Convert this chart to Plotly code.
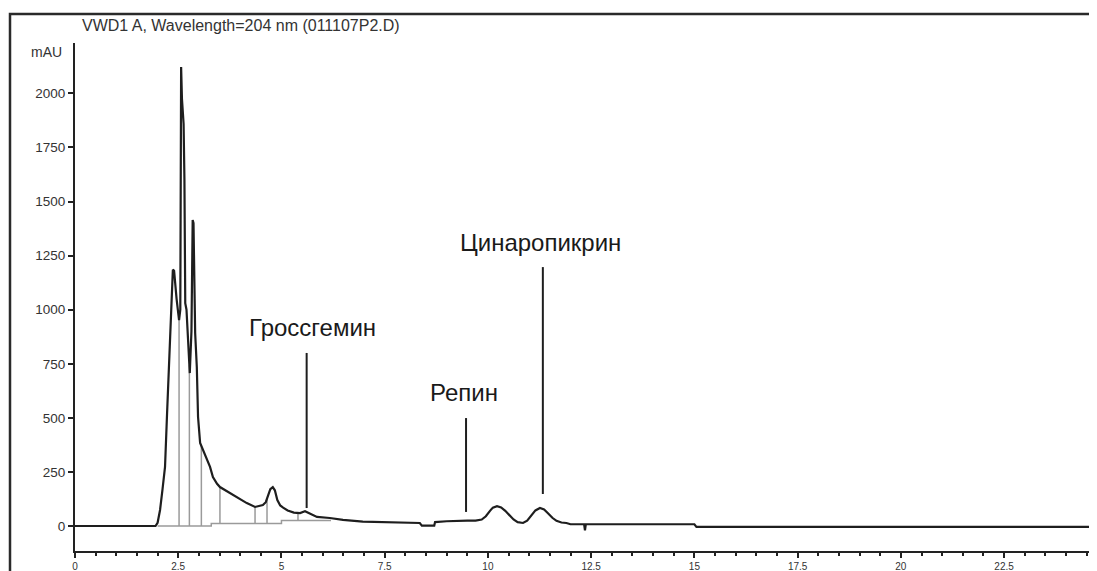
import numpy as np
import plotly.graph_objects as go

# Chromatogram trace (retention time, min) and absorbance (mAU)
time_min = [0, 1.95, 2.00, 2.06, 2.12, 2.18, 2.23, 2.28, 2.32, 2.35, 2.37, 2.40, 2.43, 2.46,
            2.49, 2.52, 2.55, 2.57, 2.59, 2.61, 2.63, 2.65, 2.67, 2.70, 2.74, 2.78, 2.82,
            2.85, 2.87, 2.89, 2.91, 2.95, 2.98, 3.03, 3.10, 3.20, 3.27, 3.34, 3.44, 3.51,
            3.63, 3.75, 3.95, 4.16, 4.36, 4.55, 4.62, 4.68, 4.73, 4.79, 4.84, 4.90, 4.97,
            5.04, 5.15, 5.30, 5.45, 5.57, 5.70, 5.86, 6.17, 6.49, 6.97, 7.50, 8.00, 8.35,
            8.40, 8.70, 8.72, 9.00, 9.50, 9.70, 9.85, 9.95, 10.05, 10.12, 10.22, 10.32,
            10.42, 10.52, 10.62, 10.72, 10.85, 10.95, 11.05, 11.15, 11.26, 11.36, 11.46,
            11.56, 11.66, 11.78, 11.90, 12.00, 12.33, 12.35, 12.37, 12.50, 15.00, 15.05, 25.0]
signal_mau = [0, 0, 15, 74, 170, 273, 522, 767, 1000, 1140, 1185, 1180, 1100, 1050,
              1000, 952, 1000, 2122, 1975, 1900, 1860, 1600, 1030, 1000, 850, 707, 900,
              1415, 1400, 1000, 892, 735, 504, 384, 351, 305, 273, 226, 195, 180,
              166, 152, 128, 106, 88, 97, 110, 140, 170, 180, 165, 120, 95,
              85, 72, 62, 60, 68, 58, 42, 37, 28, 20, 18, 15, 14,
              2, 2, 18, 22, 25, 25, 30, 45, 70, 85, 92, 86,
              70, 48, 30, 18, 14, 25, 50, 72, 83, 76, 58,
              38, 24, 16, 14, 8, 8, -20, 8, 8, 8, -4, -4]

# Integration baseline (gray) and peak split drop-lines
base_t = [2.00, 3.30, 3.30, 5.00, 5.00, 6.20]
base_v = [0, 0, 12, 12, 25, 25]
drop_t = [2.52, 2.77, 3.06, 3.51, 4.36, 4.65, 5.40]

# Labelled compounds
compounds = ["Гроссгемин", "Репин", "Цинаропикрин"]
marker_t = [5.61, 9.47, 11.33]
marker_low = [83, 65, 148]
marker_high = [800, 499, 1197]
label_t = [5.74, 9.42, 11.28]
label_v = [920, 615, 1313]

y_ticks = [0, 250, 500, 750, 1000, 1250, 1500, 1750, 2000]
x_ticks = [0, 2.5, 5, 7.5, 10, 12.5, 15, 17.5, 20, 22.5, 25]

fig = go.Figure()

# gray baseline
fig.add_trace(go.Scatter(x=base_t, y=base_v, mode="lines",
                         line=dict(color="#9a9a9a", width=1.5), hoverinfo="skip"))
# drop lines
dx, dy = [], []
for t in drop_t:
    top = float(np.interp(t, time_min, signal_mau))
    b = float(np.interp(t, base_t, base_v))
    dx += [t, t, None]
    dy += [b, top, None]
fig.add_trace(go.Scatter(x=dx, y=dy, mode="lines",
                         line=dict(color="#9a9a9a", width=1.5), hoverinfo="skip"))
# signal
fig.add_trace(go.Scatter(x=time_min, y=signal_mau, mode="lines",
                         line=dict(color="#1e1e1e", width=2.2)))
# marker lines
mx, my = [], []
for t, lo, hi in zip(marker_t, marker_low, marker_high):
    mx += [t, t, None]
    my += [lo, hi, None]
fig.add_trace(go.Scatter(x=mx, y=my, mode="lines",
                         line=dict(color="#1e1e1e", width=2), hoverinfo="skip"))

for name, t, v in zip(compounds, label_t, label_v):
    fig.add_annotation(x=t, y=v, text=name, showarrow=False,
                       font=dict(family="Liberation Sans, Arial", size=24, color="#1a1a1a"))

fig.add_annotation(xref="paper", yref="paper", x=0.005, y=1.035,
                   xanchor="left", yanchor="middle",
                   text="VWD1 A, Wavelength=204 nm (011107P2.D)", showarrow=False,
                   font=dict(family="Liberation Sans, Arial", size=16, color="#333"))
fig.add_annotation(xref="paper", yref="paper", x=-0.028, y=0.982,
                   xanchor="center", yanchor="middle",
                   text="mAU", showarrow=False,
                   font=dict(family="Liberation Sans, Arial", size=14, color="#333"))

# outer frame
fig.add_shape(type="rect", xref="paper", yref="paper", x0=-0.0636, x1=1.2, y0=-0.3, y1=1.057,
              line=dict(color="#2a2a2a", width=2.5), layer="above")

# page body has an 8px margin, so the figure is sized to end at the window edge
fig.update_layout(
    width=1089, height=563,
    margin=dict(l=67, r=0, t=35, b=20, autoexpand=False),
    paper_bgcolor="white", plot_bgcolor="white",
    showlegend=False,
    font=dict(family="Liberation Sans, Arial", size=12, color="#333"),
)
fig.update_xaxes(range=[0, 24.75], tickvals=x_ticks, ticks="outside", ticklen=5,
                 tickwidth=1.5, tickcolor="#222", showline=True, linecolor="#222",
                 linewidth=2, showgrid=False, zeroline=False,
                 minor=dict(dtick=0.5, ticks="outside", ticklen=3, tickcolor="#222", tickwidth=1.5),
                 tickfont=dict(size=10, color="#333"))
fig.update_yaxes(range=[-115.6, 2233], tickvals=y_ticks, ticks="outside", ticklen=5,
                 tickwidth=1.5, tickcolor="#222", showline=True, linecolor="#222",
                 linewidth=2, showgrid=False, zeroline=False,
                 tickfont=dict(size=13.5, color="#333"))

fig.write_html("out.html")
